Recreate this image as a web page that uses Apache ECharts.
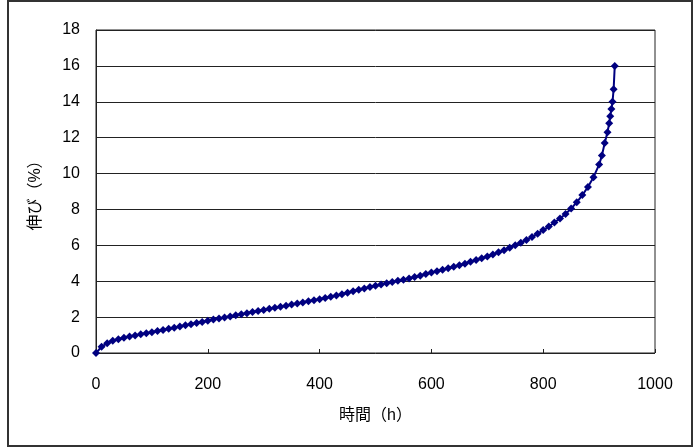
<!DOCTYPE html>
<html><head><meta charset="utf-8">
<script src="https://cdn.jsdelivr.net/npm/echarts@6/dist/echarts.min.js"></script>
<style>html,body{margin:0;padding:0;background:#fff}#c{width:700px;height:448px}</style>
</head><body><div id="c"></div>
<script>
const hours = [0,10,20,30,40,50,60,70,80,90,100,110,120,130,140,150,160,170,180,190,200,210,220,230,240,250,260,270,280,290,300,310,320,330,340,350,360,370,380,390,400,410,420,430,440,450,460,470,480,490,500,510,520,530,540,550,560,570,580,590,600,610,620,630,640,650,660,670,680,690,700,710,720,730,740,750,760,770,780,790,800,810,820,830,840,850,860,870,880,890,900,905,910,915,918,920,922,924,926,928];
const elongation = [0.0,0.35,0.55,0.68,0.77,0.85,0.92,0.98,1.04,1.1,1.16,1.22,1.28,1.35,1.41,1.47,1.54,1.6,1.67,1.73,1.8,1.86,1.92,1.98,2.04,2.1,2.16,2.22,2.28,2.34,2.4,2.46,2.52,2.58,2.64,2.7,2.76,2.82,2.88,2.94,3.0,3.07,3.14,3.21,3.28,3.36,3.44,3.52,3.6,3.68,3.75,3.82,3.89,3.96,4.02,4.08,4.15,4.23,4.31,4.4,4.48,4.56,4.64,4.72,4.8,4.89,4.98,5.08,5.18,5.28,5.38,5.49,5.61,5.73,5.86,6.0,6.15,6.3,6.47,6.65,6.85,7.05,7.27,7.5,7.75,8.05,8.4,8.8,9.25,9.8,10.5,11.0,11.7,12.3,12.8,13.2,13.6,14.0,14.7,16.0];
const xName = '時間（h）';
const yName = '伸び（%）';
const FONT = '"Liberation Sans", "Noto Sans CJK JP", sans-serif';

const chart = echarts.init(document.getElementById('c'));
chart.setOption({
  animation: false,
  backgroundColor: '#fff',
  textStyle: {fontFamily: FONT, color: '#000'},
  grid: {left: 96, right: 45, top: 30, bottom: 95, show: true, borderColor: '#222', borderWidth: 1},
  xAxis: {
    type: 'value', min: 0, max: 1000, interval: 200,
    name: xName, nameLocation: 'middle', nameGap: 55,
    nameTextStyle: {fontSize: 16, color: '#000', fontFamily: FONT},
    axisLine: {show: false},
    axisTick: {show: true, inside: true, length: 4, lineStyle: {color: '#222'}},
    axisLabel: {fontSize: 16, color: '#000', margin: 24, fontFamily: FONT, formatter: v => String(v)},
    splitLine: {show: false}
  },
  yAxis: {
    type: 'value', min: 0, max: 18, interval: 2,
    name: yName, nameLocation: 'middle', nameGap: 52,
    nameTextStyle: {fontSize: 16, color: '#000', fontFamily: FONT},
    axisLine: {show: true, lineStyle: {color: '#222', width: 1}},
    axisTick: {show: false},
    axisLabel: {fontSize: 16, color: '#000', margin: 16, fontFamily: FONT},
    splitLine: {show: true, lineStyle: {color: '#222', width: 1}}
  },
  series: [{
    type: 'line',
    data: hours.map((h, i) => [h, elongation[i]]),
    symbol: 'diamond', symbolSize: 8,
    itemStyle: {color: '#000080'},
    lineStyle: {color: '#000080', width: 2}
  }],
  graphic: [
    {type: 'rect', shape: {x: 8, y: 1, width: 684, height: 445}, style: {fill: 'none', stroke: '#333', lineWidth: 2}, z: 100}
  ]
});
</script></body></html>
